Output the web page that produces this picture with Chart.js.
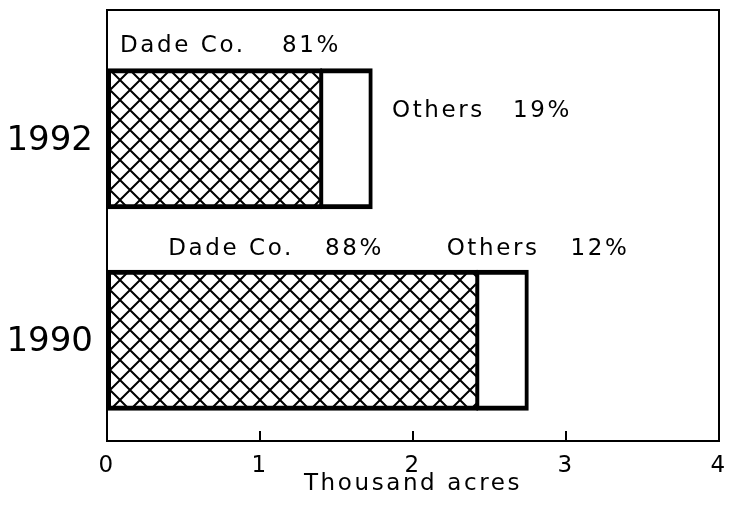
<!DOCTYPE html>
<html>
<head>
<meta charset="utf-8">
<script src="https://cdn.jsdelivr.net/npm/chart.js@4.4.1/dist/chart.umd.min.js"></script>
<style>
  html, body { margin: 0; padding: 0; background: #fff; }
</style>
</head>
<body>
<canvas id="chart" width="736" height="506"></canvas>
<script>
// =========================
// DATA
// =========================
const years = ['1992', '1990'];
const dadeAcres = [1.40, 2.42];     // thousand acres
const otherAcres = [0.33, 0.33];
const dadePct = [81, 88];
const otherPct = [19, 12];
const xTicks = [0, 1, 2, 3, 4];
const seriesNames = ['Dade Co.', 'Others'];
const axisTitle = 'Thousand acres';

// =========================
// HATCH PATTERN
// =========================
function makeHatch() {
    const size = 20;
    const c = document.createElement('canvas');
    c.width = size;
    c.height = size;
    const g = c.getContext('2d');
    g.fillStyle = '#fff';
    g.fillRect(0, 0, size, size);
    g.strokeStyle = '#000';
    g.lineWidth = 2;
    for (const o of [-size, 0, size]) {
        g.beginPath();
        g.moveTo(o, 0);
        g.lineTo(o + size, size);
        g.moveTo(o + size, 0);
        g.lineTo(o, size);
        g.stroke();
    }
    return g.createPattern(c, 'repeat');
}

const FONT = 'DejaVu Sans';

// =========================
// PLUGINS
// =========================
const framePlugin = {
    id: 'frame',
    beforeDraw(chart) {
        chart.ctx.letterSpacing = '2.6px';
    },
    afterDatasetsDraw(chart) {
        const { ctx, chartArea: a, scales } = chart;
        ctx.save();
        ctx.strokeStyle = '#000';
        ctx.lineWidth = 2;
        ctx.strokeRect(a.left, a.top - 28, a.right - a.left, a.bottom - a.top + 28);
        // inner tick marks on the x axis
        xTicks.forEach(v => {
            const x = scales.x.getPixelForValue(v);
            ctx.beginPath();
            ctx.moveTo(x, a.bottom);
            ctx.lineTo(x, a.bottom - 10);
            ctx.stroke();
        });

        // labels
        const dade = chart.getDatasetMeta(0).data;
        const sx = v => scales.x.getPixelForValue(v);
        ctx.fillStyle = '#000';
        ctx.font = '23px "' + FONT + '"';
        ctx.textBaseline = 'middle';
        ctx.textAlign = 'left';
        // [row, series, name x, pct x, y offset from bar top]
        const place = [
            [0, 0, 0.085, 1.144, -23],
            [0, 1, 1.863, 2.654, 42],
            [1, 0, 0.40, 1.425, -22],
            [1, 1, 2.22, 3.03, -22]
        ];
        place.forEach(([row, s, nx, px, dy]) => {
            const bar = dade[row];
            const top = bar.y - bar.height / 2;
            const pct = s === 0 ? dadePct[row] : otherPct[row];
            ctx.fillText(seriesNames[s], sx(nx), top + dy);
            ctx.fillText(pct + '%', sx(px), top + dy);
        });
        ctx.restore();
        ctx.letterSpacing = '0px';
    }
};

// =========================
// CHART
// =========================
Chart.defaults.color = '#000';
Chart.defaults.font.family = FONT;

const ctx = document.getElementById('chart').getContext('2d');
new Chart(ctx, {
    type: 'bar',
    data: {
        labels: years,
        datasets: [
            {
                label: seriesNames[0],
                data: dadeAcres,
                backgroundColor: makeHatch(),
                borderColor: '#000',
                borderWidth: { top: 5, bottom: 5, left: 5, right: 3 },
                borderSkipped: false,
                inflateAmount: 1
            },
            {
                label: seriesNames[1],
                data: otherAcres,
                backgroundColor: '#fff',
                borderColor: '#000',
                borderWidth: { top: 5, bottom: 5, right: 4, left: 3 },
                borderSkipped: false,
                inflateAmount: 1
            }
        ]
    },
    options: {
        indexAxis: 'y',
        responsive: false,
        animation: false,
        devicePixelRatio: 1,
        categoryPercentage: 1,
        barPercentage: 0.69,
        layout: { padding: { top: 38, right: 17, left: 0, bottom: 0 } },
        plugins: {
            legend: { display: false },
            tooltip: { enabled: false }
        },
        scales: {
            x: {
                type: 'linear',
                stacked: true,
                min: 0,
                max: 4,
                afterBuildTicks: s => { s.ticks = xTicks.map(v => ({ value: v })); },
                afterFit: s => { s.height = 65; s.paddingLeft = 0; s.paddingRight = 0; },
                grid: { display: false, drawTicks: false },
                border: { display: false },
                ticks: { font: { size: 23 }, padding: 11 },
                title: {
                    display: true,
                    text: axisTitle,
                    font: { size: 23 },
                    padding: { top: 0, bottom: 8 }
                }
            },
            y: {
                stacked: true,
                offset: true,
                afterFit: s => { s.width = 107; },
                grid: { display: false, drawTicks: false },
                border: { display: false },
                ticks: { font: { size: 34 }, padding: 14, labelOffset: 2, z: 1 }
            }
        }
    },
    plugins: [framePlugin]
});
</script>
</body>
</html>
